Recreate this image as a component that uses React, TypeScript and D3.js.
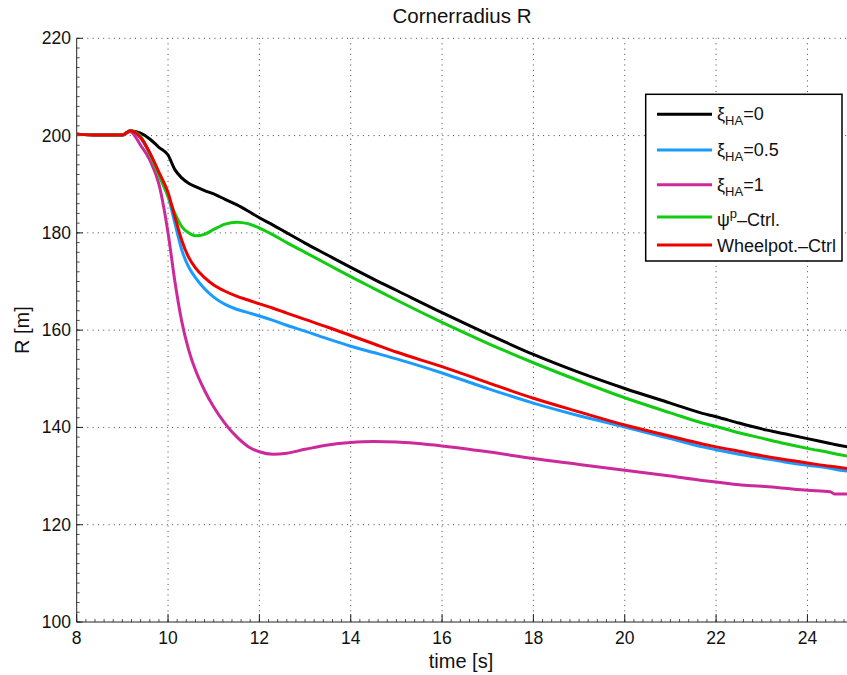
import React from "react";
import * as d3 from "d3";

const TIME = [8, 8.5, 9.0, 9.17, 9.4, 9.6, 9.8, 10.0, 10.15, 10.3, 10.45, 10.6, 10.8, 11.0, 11.25, 11.5, 11.75, 12.0, 12.3, 12.6, 13.0, 13.5, 14, 14.5, 15, 16, 17, 18, 19, 20, 21, 21.7, 22, 22.5, 23, 23.5, 24, 24.5, 24.6, 25];

const XI0 = [200.3, 200.1, 200.1, 201.0, 200.5, 199.3, 197.6, 196.0, 193.0, 191.3, 190.2, 189.5, 188.7, 188.0, 186.9, 185.8, 184.5, 183.1, 181.6, 180.0, 177.9, 175.4, 172.9, 170.5, 168.2, 163.6, 159.2, 155.0, 151.3, 148.0, 145.0, 142.9, 142.2, 140.9, 139.7, 138.7, 137.7, 136.7, 136.5, 135.8];
const XI05 = [200.3, 200.1, 200.1, 201.0, 199.5, 196.3, 192.0, 187.5, 182.0, 176.5, 173.0, 170.8, 168.5, 166.8, 165.3, 164.3, 163.6, 162.9, 162.0, 161.0, 159.8, 158.2, 156.7, 155.4, 154.1, 151.2, 148.0, 145.0, 142.4, 140.1, 137.7, 136.0, 135.4, 134.5, 133.7, 132.9, 132.2, 131.6, 131.4, 130.9];
const XI1 = [200.3, 200.1, 200.1, 200.8, 198.0, 195.0, 190.0, 180.0, 170.0, 161.8, 156.0, 151.8, 147.6, 144.2, 140.8, 138.1, 136.1, 135.0, 134.5, 134.7, 135.5, 136.4, 136.9, 137.1, 137.0, 136.2, 135.0, 133.6, 132.4, 131.2, 130.0, 129.1, 128.8, 128.2, 127.9, 127.5, 127.1, 126.8, 126.3, 126.3];
const PSI = [200.3, 200.1, 200.1, 201.0, 199.8, 196.2, 191.8, 187.5, 184.0, 181.3, 180.0, 179.4, 179.7, 180.7, 181.8, 182.2, 181.9, 181.0, 179.6, 178.0, 176.0, 173.5, 171.0, 168.6, 166.2, 161.6, 157.3, 153.3, 149.6, 146.1, 143.0, 140.9, 140.2, 138.9, 137.8, 136.7, 135.7, 134.8, 134.6, 133.9];
const WHEEL = [200.3, 200.1, 200.1, 201.0, 199.6, 196.5, 192.5, 188.3, 183.3, 178.5, 175.0, 172.8, 170.8, 169.3, 168.0, 167.0, 166.2, 165.4, 164.5, 163.5, 162.2, 160.6, 158.9, 157.2, 155.5, 152.5, 149.2, 146.0, 143.2, 140.5, 138.2, 136.6, 136.0, 135.1, 134.2, 133.4, 132.7, 132.0, 131.9, 131.4];

const X_TICKS = [8, 10, 12, 14, 16, 18, 20, 22, 24];
const Y_TICKS = [100, 120, 140, 160, 180, 200, 220];

const SERIES = [
  { key: "xi0", values: XI0, color: "#000000" },
  { key: "xi05", values: XI05, color: "#1a9cff" },
  { key: "xi1", values: XI1, color: "#cc2a9a" },
  { key: "psi", values: PSI, color: "#11cc11" },
  { key: "wheel", values: WHEEL, color: "#ee0000" },
];

const W = 847;
const H = 675;
const FONT = "'Liberation Sans', Arial, Helvetica, sans-serif";

export default function App() {
  const x = d3.scaleLinear().domain([8, 25]).range([76.7, 853.1]);
  const y = d3.scaleLinear().domain([100, 220]).range([622, 38.3]);
  const line = d3
    .line<number>()
    .x((_, i) => x(TIME[i]))
    .y((d) => y(d))
    .curve(d3.curveMonotoneX);

  const xMinor = d3.range(8, 25.001, 0.2);
  const yMinor = d3.range(100, 220.001, 2);

  const legX0 = 645.7, legY0 = 94.3, legX1 = 842, legY1 = 261;
  const rowY = [114.3, 150, 184.7, 217, 245];
  const lx0 = 657, lx1 = 712, tx = 717;

  return (
    <svg width={W} height={H} style={{ position: "absolute", left: 0, top: 0, background: "#fff" }} fontFamily={FONT}>
      <defs>
        <clipPath id="plot">
          <rect x={x(8)} y={y(220) - 3} width={x(25) - x(8)} height={y(100) - y(220) + 3} />
        </clipPath>
      </defs>
      {/* grid */}
      <g stroke="#444" strokeWidth={1} strokeDasharray="1,4.3">
        {X_TICKS.filter((t) => t > 8).map((t) => (
          <line key={"gx" + t} x1={x(t)} x2={x(t)} y1={y(100)} y2={y(220)} />
        ))}
        {Y_TICKS.filter((t) => t > 100).map((t) => (
          <line key={"gy" + t} x1={x(8)} x2={x(25)} y1={y(t)} y2={y(t)} />
        ))}
      </g>
      {/* minor ticks */}
      <g stroke="#555" strokeWidth={1}>
        {xMinor.map((t, i) => (
          <line key={"mx" + i} x1={x(t)} x2={x(t)} y1={y(100)} y2={y(100) - 3} />
        ))}
        {yMinor.map((t, i) => (
          <line key={"my" + i} x1={x(8)} x2={x(8) + 3} y1={y(t)} y2={y(t)} />
        ))}
      </g>
      {/* major ticks */}
      <g stroke="#222" strokeWidth={1}>
        {X_TICKS.map((t) => (
          <line key={"tx" + t} x1={x(t)} x2={x(t)} y1={y(100)} y2={y(100) - 8} />
        ))}
        {Y_TICKS.map((t) => (
          <line key={"ty" + t} x1={x(8)} x2={x(8) + 6} y1={y(t)} y2={y(t)} />
        ))}
      </g>
      {/* axes */}
      <line x1={x(8)} x2={x(8)} y1={y(100)} y2={y(220)} stroke="#222" strokeWidth={1} />
      <line x1={x(8)} x2={x(25)} y1={y(100)} y2={y(100)} stroke="#222" strokeWidth={1} />
      {/* tick labels */}
      <g fontSize={17.5} fill="#111">
        {X_TICKS.map((t) => (
          <text key={"lx" + t} x={x(t)} y={644} textAnchor="middle">{t}</text>
        ))}
        {Y_TICKS.map((t) => (
          <text key={"ly" + t} x={71} y={y(t) + 6} textAnchor="end">{t}</text>
        ))}
      </g>
      {/* series */}
      <g clipPath="url(#plot)" fill="none" strokeWidth={3} strokeLinejoin="round" strokeLinecap="round">
        {SERIES.map((s) => (
          <path key={s.key} d={line(s.values) || ""} stroke={s.color} />
        ))}
      </g>
      {/* labels */}
      <text x={462} y={23} textAnchor="middle" fontSize={20.5} fill="#111">Cornerradius R</text>
      <text x={461} y={668} textAnchor="middle" fontSize={20} fill="#111">time [s]</text>
      <text transform={`translate(29, ${y(160)}) rotate(-90)`} textAnchor="middle" fontSize={20} fill="#111">R [m]</text>
      {/* legend */}
      <rect x={legX0} y={legY0} width={legX1 - legX0} height={legY1 - legY0} fill="#fff" stroke="#000" strokeWidth={1.5} />
      {SERIES.map((s, i) => (
        <line key={"ll" + s.key} x1={lx0} x2={lx1} y1={rowY[i]} y2={rowY[i]} stroke={s.color} strokeWidth={3} />
      ))}
      <g fontSize={18} fill="#111">
        <text x={tx} y={rowY[0] + 6}>ξ<tspan fontSize={13} dy={5}>HA</tspan><tspan dy={-5}>=0</tspan></text>
        <text x={tx} y={rowY[1] + 6}>ξ<tspan fontSize={13} dy={5}>HA</tspan><tspan dy={-5}>=0.5</tspan></text>
        <text x={tx} y={rowY[2] + 6}>ξ<tspan fontSize={13} dy={5}>HA</tspan><tspan dy={-5}>=1</tspan></text>
        <text x={tx} y={rowY[3] + 9}>ψ<tspan fontSize={13} dy={-8}>p</tspan><tspan dy={8}>–Ctrl.</tspan></text>
        <text x={tx} y={rowY[4] + 6.5}>Wheelpot.–Ctrl</text>
      </g>
    </svg>
  );
}
